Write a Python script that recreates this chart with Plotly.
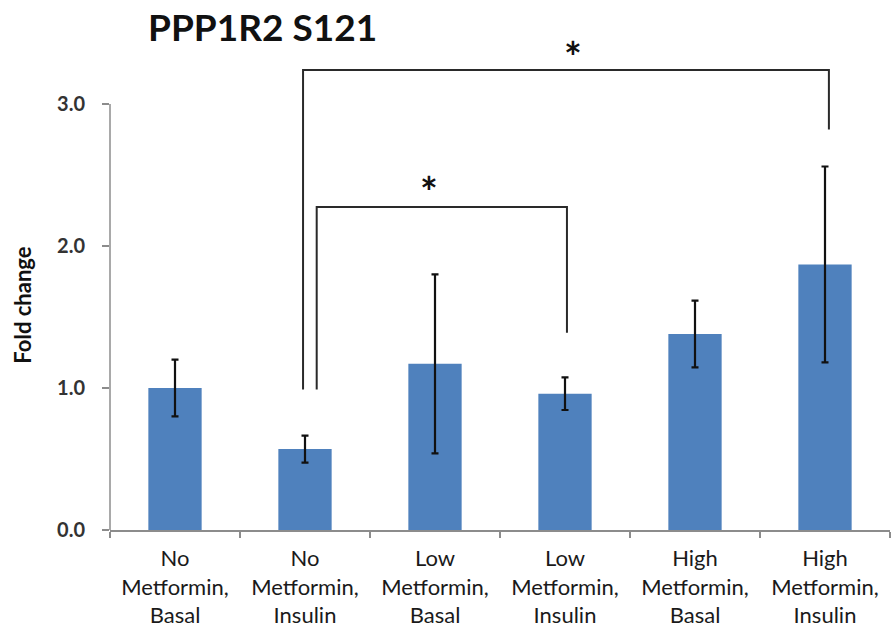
import plotly.graph_objects as go

# Group labels and measured fold change (mean +/- error)
categories = [
    "No<br>Metformin,<br>Basal",
    "No<br>Metformin,<br>Insulin",
    "Low<br>Metformin,<br>Basal",
    "Low<br>Metformin,<br>Insulin",
    "High<br>Metformin,<br>Basal",
    "High<br>Metformin,<br>Insulin",
]
fold_change = [1.00, 0.57, 1.17, 0.96, 1.38, 1.87]
error = [0.20, 0.095, 0.63, 0.115, 0.235, 0.69]
y_ticks = [0, 1, 2, 3]
y_tick_labels = ["0.0", "1.0", "2.0", "3.0"]

FONT = "Lato"
AXIS_GREY = "#8c8c8c"

fig = go.Figure()
fig.add_trace(go.Bar(
    x=categories,
    y=fold_change,
    marker=dict(color="#4f81bd", line=dict(width=0)),
    width=0.41,
    error_y=dict(type="data", array=error, visible=True,
                 color="#111111", thickness=2.2, width=3.5),
))

# Significance brackets (x in category index units, y in fold change)
bracket_color = "#2a2a2a"
brackets = [
    # (x_left, x_right, y_top, y_left_bottom, y_right_bottom)
    (0.985, 5.03, 3.24, 0.99, 2.82),
    (1.09, 3.015, 2.275, 0.99, 1.39),
]
for xl, xr, yt, ylb, yrb in brackets:
    fig.add_shape(type="path",
                  path=f"M {xl},{ylb} L {xl},{yt} L {xr},{yt} L {xr},{yrb}",
                  xref="x", yref="y",
                  line=dict(color=bracket_color, width=2))

for sx, sy in [(1.95, 2.38), (3.06, 3.33)]:
    fig.add_annotation(x=sx, y=sy, xref="x", yref="y", text="<b>*</b>",
                       showarrow=False,
                       font=dict(family=FONT, size=42, color="#111111"))

# Vertical axis line drawn only up to the top tick
fig.add_shape(type="line", xref="paper", yref="y", x0=0, x1=0, y0=0, y1=3,
              line=dict(color=AXIS_GREY, width=1.5))

fig.add_annotation(x=0.196, y=0.98, xref="paper", yref="paper",
                   text="<b>PPP1R2 S121</b>", showarrow=False,
                   xanchor="center", yanchor="middle",
                   font=dict(family=FONT, size=37, color="#111111"))

# Y axis title, centred beside the tick range
fig.add_annotation(x=0, y=1.58, xref="paper", yref="y",
                   text="<b>Fold change</b>", showarrow=False,
                   textangle=-90, xanchor="center", yanchor="middle",
                   xshift=-87,
                   font=dict(family=FONT, size=22, color="#111111"))

fig.update_layout(
    width=892, height=633,
    margin=dict(l=110, r=2, t=16, b=103),
    plot_bgcolor="white", paper_bgcolor="white",
    showlegend=False,
    font=dict(family=FONT, color="#222222"),
)
fig.update_xaxes(
    type="category",
    showline=True, linecolor=AXIS_GREY, linewidth=1.5,
    ticks="outside", tickson="boundaries", ticklen=6,
    tickcolor=AXIS_GREY, tickwidth=1.5,
    ticklabelstandoff=8,
    tickfont=dict(family=FONT, size=22, color="#1a1a1a"),
    showgrid=False, zeroline=False,
)
fig.update_yaxes(
    range=[0, 3.62],
    tickvals=y_ticks, ticktext=[f"<b>{t}</b>" for t in y_tick_labels],
    ticks="outside", ticklen=7, tickcolor=AXIS_GREY, tickwidth=1.5,
    ticklabelstandoff=13,
    tickfont=dict(family=FONT, size=20, color="#333333"),
    showline=False, showgrid=False, zeroline=False,
)

fig.write_html("out.html")
